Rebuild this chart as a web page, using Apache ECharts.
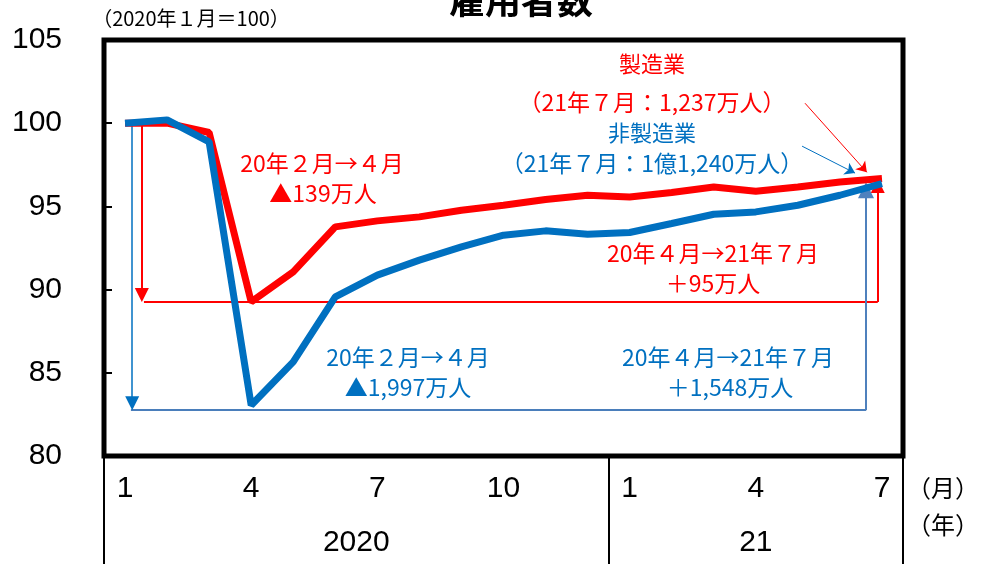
<!DOCTYPE html>
<html><head><meta charset="utf-8">
<script src="https://cdn.jsdelivr.net/npm/echarts@6/dist/echarts.min.js"></script>
<style>html,body{margin:0;padding:0;background:#fff}#c{width:991px;height:564px}</style>
</head><body><div id="c"></div>
<script>
// Month labels (2020/1 .. 2021/7)
const months = ['1','2','3','4','5','6','7','8','9','10','11','12','1','2','3','4','5','6','7'];
const years = ['2020','21'];
// Index 2020/1 = 100
const manufacturing = [100.0,100.0,99.44,89.26,91.06,93.77,94.13,94.37,94.77,95.07,95.41,95.67,95.57,95.83,96.17,95.91,96.17,96.47,96.67];
const nonManufacturing = [100.0,100.2,98.88,83.05,85.66,89.56,90.87,91.77,92.57,93.27,93.53,93.33,93.43,93.97,94.53,94.67,95.07,95.67,96.37];

const RED = '#ff0000', BLUE = '#0070c0', BLUE2 = '#4a7ebb';
const JP = '"Noto Sans CJK JP", sans-serif';
const NUM = '"Liberation Sans Narrow", "Liberation Sans", sans-serif';

const chart = echarts.init(document.getElementById('c'));

const mApr = manufacturing[3], nApr = nonManufacturing[3] - 0.3;
function seg(from, to, color, width, endSym, size) {
  return {
    type: 'lines', coordinateSystem: 'cartesian2d', xAxisIndex: 2, yAxisIndex: 0,
    symbol: ['none', endSym || 'none'], symbolSize: size || 14, silent: true, z: 3,
    lineStyle: { color: color, width: width, opacity: 1 },
    data: [{ coords: [from, to] }]
  };
}
function txt(text, x, y, color, size, weight) {
  return {
    type: 'text', x: x, y: y, silent: true,
    style: { text: text, fill: color, font: (weight ? weight + ' ' : '') + (size || 22) + 'px ' + JP, textAlign: 'center', textVerticalAlign: 'middle' }
  };
}

const option = {
  animation: false,
  grid: { left: 104, right: 88, top: 40, bottom: 108, show: true, borderColor: '#000', borderWidth: 5, backgroundColor: 'transparent' },
  xAxis: [
    { type: 'category', data: months, position: 'bottom', boundaryGap: true,
      axisLine: { show: false }, axisTick: { show: false }, splitLine: { show: false },
      axisLabel: { interval: function (i) { return i % 3 === 0; }, color: '#000', fontFamily: NUM, fontSize: 30, margin: 18 } },
    { type: 'category', data: months, position: 'bottom', boundaryGap: true,
      axisLine: { show: false }, splitLine: { show: false },
      axisTick: { show: true, interval: function (i) { return i === 0 || i === 12; }, length: 108, lineStyle: { color: '#000', width: 2 } },
      axisLabel: { interval: function (i) { return i === 5 || i === 15; }, color: '#000', fontFamily: NUM, fontSize: 30, margin: 72,
        formatter: function (v, i) { return i === 5 ? '{a|' + years[0] + '}' : years[1]; },
        rich: { a: { padding: [0, 0, 0, 42], fontFamily: NUM, fontSize: 30, color: '#000' } } } },
    { type: 'value', min: 0.5, max: 19.5, show: false }
  ],
  yAxis: [{ type: 'value', min: 80, max: 105, interval: 5,
    axisLine: { show: false }, splitLine: { show: false },
    axisTick: { show: true, inside: true, length: 8, lineStyle: { color: '#000', width: 2 } },
    axisLabel: { color: '#000', fontFamily: NUM, fontSize: 30, margin: 42 } }],
  series: [
    seg([1.45, mApr], [18.9, mApr], RED, 2),
    seg([1.40, 100], [1.40, mApr + 0.42], RED, 2, 'triangle', [15, 14]),
    seg([18.9, mApr], [18.9, manufacturing[18] - 0.45], RED, 2, 'triangle', [15, 14]),
    seg([1.14, nApr], [18.62, nApr], BLUE2, 2),
    seg([1.17, 100], [1.17, nApr + 0.42], BLUE, 1.5, 'triangle', [15, 14]),
    seg([18.62, nApr], [18.62, nonManufacturing[18] - 0.4], '#4f81bd', 2, 'triangle', [13, 16]),
    seg([17.17, 101.2], [18.64, 97.05], RED, 1, 'arrow', [7, 10]),
    seg([17.1, 98.62], [18.36, 97.0], BLUE, 1, 'arrow', [7, 10]),
    { name: '製造業', type: 'line', xAxisIndex: 0, yAxisIndex: 0, data: manufacturing, symbol: 'none', z: 4,
      lineStyle: { color: RED, width: 7 } },
    { name: '非製造業', type: 'line', xAxisIndex: 0, yAxisIndex: 0, data: nonManufacturing, symbol: 'none', z: 5,
      lineStyle: { color: BLUE, width: 7 } }
  ],
  graphic: [
    txt('雇用者数', 521, 0, '#000', 36, 'bold'),
    txt('（2020年１月＝100）', 191, 18, '#000', 20),
    txt('製造業', 652, 64, RED, 22),
    txt('（21年７月：1,237万人）', 652, 102, RED, 23),
    txt('非製造業', 652, 133, BLUE, 22),
    txt('（21年７月：1億1,240万人）', 652, 163, BLUE, 23),
    txt('20年２月→４月', 322, 163, RED, 23),
    txt('▲139万人', 323, 193, RED, 23),
    txt('20年２月→４月', 408, 357, BLUE, 23),
    txt('▲1,997万人', 408, 387, BLUE, 23),
    txt('20年４月→21年７月', 713, 253, RED, 23),
    txt('＋95万人', 713, 283, RED, 23),
    txt('20年４月→21年７月', 728, 357, BLUE, 23),
    txt('＋1,548万人', 730, 387, BLUE, 23),
    txt('（月）', 943, 488, '#000', 24),
    txt('（年）', 943, 525, '#000', 24)
  ]
};
chart.setOption(option);
</script></body></html>
